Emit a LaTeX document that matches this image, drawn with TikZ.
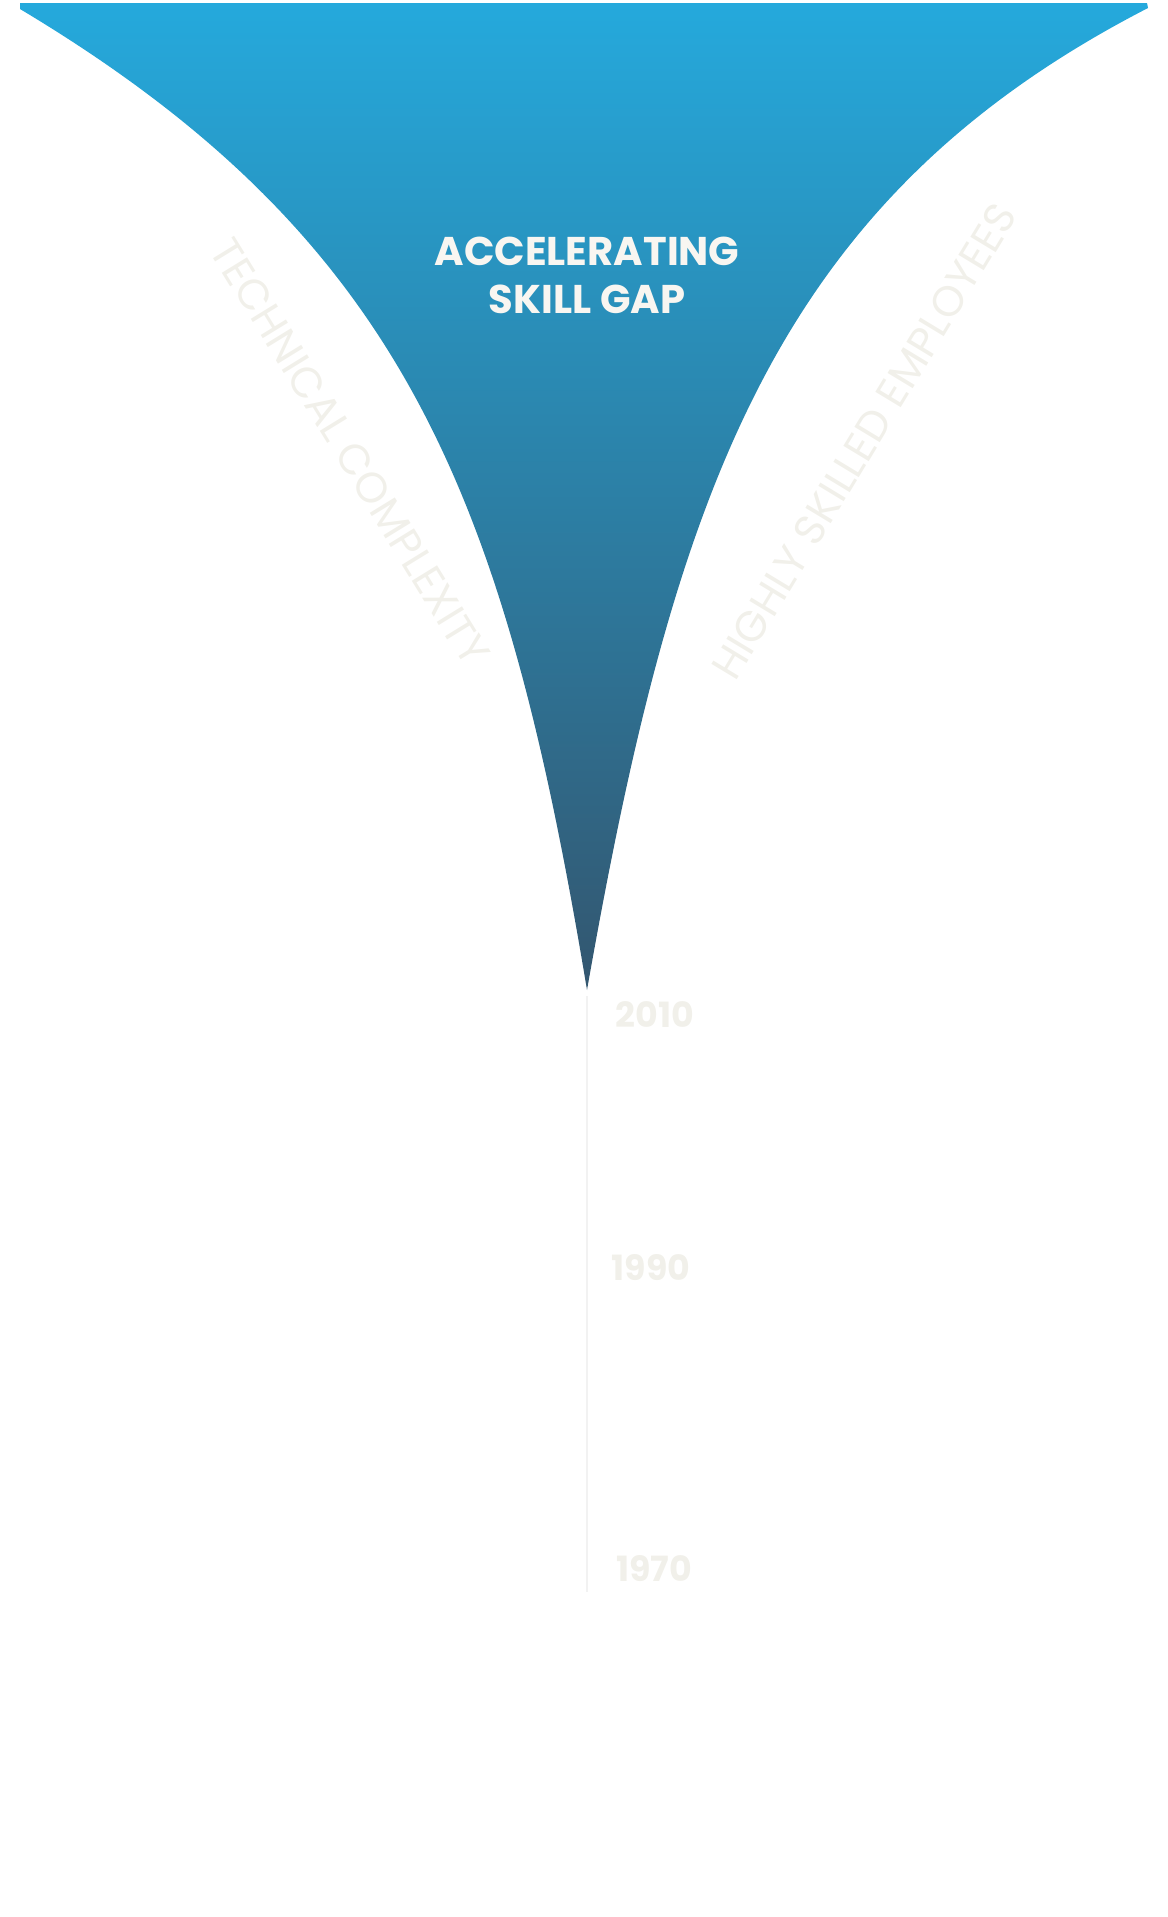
\documentclass[tikz,border=0pt]{standalone}
\usepackage{fontspec}
\setmainfont{Poppins}
\usepackage{tikz}
\usepackage{xcolor}
\definecolor{gapTop}{HTML}{25A9DC}
\definecolor{gapBottom}{HTML}{33566F}
\definecolor{titleWhite}{HTML}{F8F6F1}
\definecolor{faintText}{HTML}{F1F0EA}
\definecolor{faintLine}{HTML}{F2F2F2}

\begin{document}
\begin{tikzpicture}[
    x=0.01cm, y=-0.01cm,
    every node/.style={inner sep=0pt},
    gaptitle/.style ={text=titleWhite, font=\fontsize{11.4}{13.7}\selectfont\bfseries, align=center},
    sidelabel/.style={text=faintText, font=\fontsize{12.1}{14}\selectfont},
    yearlabel/.style={text=faintText, font=\fontsize{9.9}{11}\selectfont\bfseries},
    timeline/.style ={draw=faintLine, line width=0.5pt}
]
\useasboundingbox (0,0) rectangle (1168,1917);
% funnel
\shade[top color=gapTop, bottom color=gapBottom]
    (20,3) -- (1147,3) -- (1148,8)
    .. controls (775,200) and (675,490) .. (587,990)
    .. controls (505,497) and (406,240) .. (20,9) -- cycle;
\coordinate (tip) at (587,996);
\coordinate (lineend) at (587,1592);
\node[gaptitle] (gap) at (587,275) {ACCELERATING\\SKILL GAP};
\node[sidelabel, rotate=-58.4] (complexity) at (350,452) {TECHNICAL COMPLEXITY};
\node[sidelabel, rotate=58.8] (employees) at (864,441) {HIGHLY SKILLED EMPLOYEES};
\node[yearlabel] (y2010) at (655,1014) {2010};
\node[yearlabel] (y1990) at (651,1268) {1990};
\node[yearlabel] (y1970) at (654,1569) {1970};
\draw[timeline] (tip) -- (lineend);
\end{tikzpicture}
\end{document}
